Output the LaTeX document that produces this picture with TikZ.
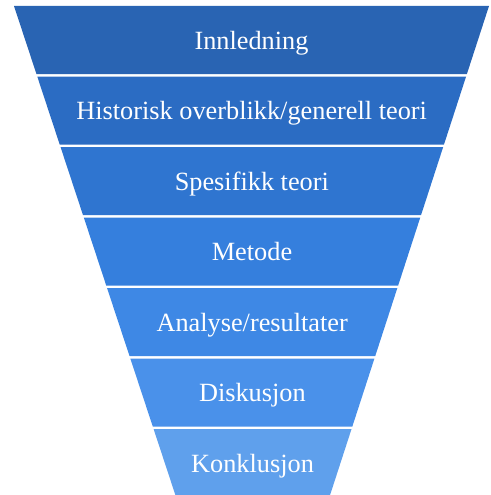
\documentclass[tikz,border=0pt]{standalone}
\usepackage{fontspec}
\setmainfont{Liberation Serif}
\begin{document}
\begin{tikzpicture}[x=1pt,y=-1pt,
  bandtext/.style={text=white,font=\fontsize{26.3}{31}\selectfont,inner sep=0pt,anchor=base}]
\useasboundingbox (0,0) rectangle (490,495);
\clip (0,0) rectangle (490,495);
% funnel geometry: top edge at y=6, bands 68 high, spaced 70.5 apart
\def\ftop{6}
\def\fleft{14}
\def\fright{489}
\def\lslope{0.33}
\def\rslope{0.325}
\definecolor{b1}{HTML}{2964B3}
\definecolor{b2}{HTML}{2B6CC3}
\definecolor{b3}{HTML}{2F75D0}
\definecolor{b4}{HTML}{357FDD}
\definecolor{b5}{HTML}{3E88E5}
\definecolor{b6}{HTML}{4A91EA}
\definecolor{b7}{HTML}{5FA0EC}
\foreach \i/\lbl/\nm in {0/Innledning/innl,
                        1/Historisk overblikk\slash generell teori/hist,
                        2/Spesifikk teori/spes,
                        3/Metode/met,
                        4/Analyse\slash resultater/anal,
                        5/Diskusjon/disk,
                        6/Konklusjon/konk}{
  \pgfmathsetmacro{\yt}{\ftop+70.5*\i}
  \pgfmathsetmacro{\yb}{\yt+68}
  \pgfmathsetmacro{\xtl}{\fleft+\lslope*(\yt-\ftop)}
  \pgfmathsetmacro{\xbl}{\fleft+\lslope*(\yb-\ftop)}
  \pgfmathsetmacro{\xtr}{\fright-\rslope*(\yt-\ftop)}
  \pgfmathsetmacro{\xbr}{\fright-\rslope*(\yb-\ftop)}
  \pgfmathtruncatemacro{\c}{\i+1}
  \fill[b\c] (\xtl,\yt) -- (\xtr,\yt) -- (\xbr,\yb) -- (\xbl,\yb) -- cycle;
  \node[bandtext] (\nm) at ({(\xtl+\xtr)/2},{\yt+43}) {\lbl};
}
\end{tikzpicture}
\end{document}
